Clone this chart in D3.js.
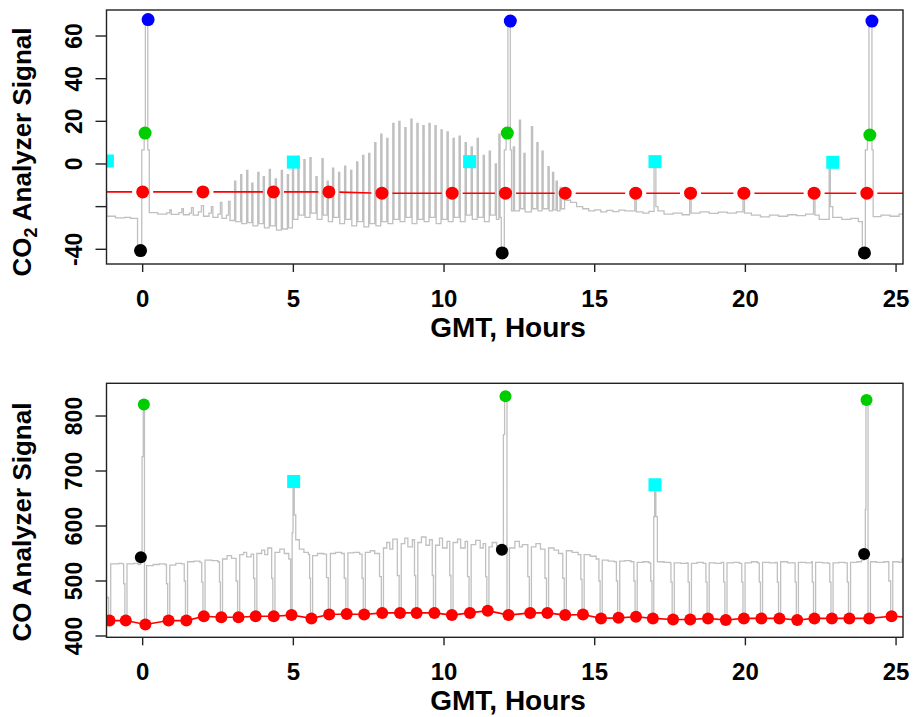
<!DOCTYPE html>
<html>
<head>
<meta charset="utf-8">
<script src="https://cdn.jsdelivr.net/npm/d3@7"></script>
<style>
  body { margin: 0; background: #fff; }
  text { font-family: "Liberation Sans", Arial, sans-serif; font-weight: bold; fill: #000; }
</style>
</head>
<body>
<script>
const xTicks = [0, 5, 10, 15, 20, 25];
const co2Ticks = [-40, -20, 0, 20, 40, 60];
const co2TickLabels = ['-40', '', '0', '20', '40', '60'];
const coTicks = [400, 500, 600, 700, 800];
const coTickLabels = ['400', '500', '600', '700', '800'];

// CO2 analyzer trace, [hours, signal], step after
const co2Trace = [
  [-1.22,-16],[-1.19,-24.5],[-0.9,-25.3],[-0.6,-25.0],[-0.4,-25.5],[-0.17,-41],[-0.03,6.6],[0.05,14.5],[0.09,67.7],[0.17,6.6],[0.22,-22.8],
  [0.5,-23.5],[0.8,-22.9],[0.9,-21.5],[0.95,-23.6],[1.2,-22.8],[1.3,-21],[1.35,-23.8],[1.55,-23],[1.62,-20.5],[1.68,-24],[1.85,-22.5],[1.95,-19.5],[2.02,-24.5],[2.2,-23],[2.28,-20],[2.33,-25],[2.5,-23.5],[2.58,-18],[2.63,-25.5],[2.78,-24],[2.85,-17.5],[2.9,-26.5],
  [3.05,-8],[3.09,-27],[3.25,-5],[3.29,-28],[3.45,-3],[3.49,-27.5],[3.62,-9],[3.66,-29],[3.82,-4],[3.86,-28],[4.0,-6],[4.04,-30],[4.2,-2.5],[4.24,-29],[4.4,-7],[4.44,-31],[4.6,-3],[4.64,-30.5],[4.8,-5],[4.84,-30],[4.97,0],[5.01,-26],
  [5.15,3.5],[5.19,-24],[5.35,2],[5.39,-25],[5.55,3],[5.59,-23],[5.75,-6],[5.79,-26],[5.95,2.5],[5.99,-24],[6.12,-8],[6.16,-27],[6.3,-2],[6.34,-25],[6.5,-4],[6.54,-28],[6.7,-1],[6.74,-26],[6.9,-3],[6.94,-29],[7.1,1],[7.14,-27],[7.3,4],[7.34,-29.5],[7.5,5],[7.54,-28],
  [7.7,10],[7.74,-29],[7.9,14],[7.94,-27],[8.1,12],[8.14,-28],
  [8.3,19],[8.34,-26],[8.5,20],[8.54,-27],[8.7,17],[8.74,-25],[8.9,21],[8.94,-28],[9.1,19],[9.14,-26],[9.3,18],[9.34,-27],[9.5,19],[9.54,-25],[9.7,18],[9.74,-28],[9.9,16],[9.94,-26],[10.1,15],[10.14,-27],[10.3,12],[10.34,-25],[10.5,13],[10.54,-27],[10.7,10],[10.74,-24],[10.9,8],[10.94,-26],[11.1,12],[11.14,-25],[11.3,4],[11.34,-27],[11.5,6],[11.54,-24],[11.7,0],[11.74,-26],[11.82,14],[11.86,-25],
  [11.9,-41.7],[12.0,6.6],[12.06,14.5],[12.12,67],[12.2,6.6],[12.24,-22],
  [12.3,8],[12.34,-22],[12.5,20.6],[12.54,-21],[12.65,5],[12.69,-22.5],[12.9,17.5],[12.94,-21],[13.08,10],[13.12,-22],[13.25,6],[13.29,-21],[13.45,-1.3],[13.49,-22],[13.6,-4],[13.64,-21.5],[13.72,-8],[13.76,-22],[13.85,-11],[13.89,-21],[14.0,-15],[14.05,-17],[14.2,-18],[14.4,-20],[14.6,-21],
  [14.8,-22],[15.0,-21.5],[15.2,-22.5],[15.4,-21.8],[15.6,-22.3],[15.8,-21.6],[16.0,-22],[16.33,-13.3],[16.38,-22.5],[16.6,-23],[16.8,-22.2],[16.97,1],[17.03,-20],[17.1,-22],[17.3,-23.5],[17.6,-23],[17.9,-23.8],[18.15,-13.5],[18.2,-23],[18.5,-22.5],[18.8,-23.2],[19.1,-22.6],[19.4,-23],[19.7,-22.5],[19.92,-13.5],[19.97,-23],
  [20.2,-24],[20.5,-24.8],[20.8,-24],[21.1,-24.5],[21.4,-23.8],[21.7,-24.2],[22.0,-23.5],[22.26,-13.5],[22.31,-24],[22.45,-26],[22.78,0.8],[22.82,-20],[22.9,-25],[23.2,-26],[23.5,-25.5],[23.75,-27],[23.88,-41.7],[23.98,6.6],[24.05,13.6],[24.1,67],[24.2,6.6],[24.24,-24.7],[24.5,-24],[24.8,-24.5],[25.1,-23.5],[25.3,-23]
];
const co2Ref = [[-2.2,-13.1],[0,-13.1],[2.0,-13.1],[4.34,-13.1],[6.18,-13.1],[7.94,-13.7],[10.27,-13.7],[12.04,-13.7],[14.02,-13.7],[16.36,-13.7],[18.18,-13.7],[19.95,-13.7],[22.28,-13.7],[24.03,-13.7],[26.2,-13.7]];
const co2Blue = [[0.18,67.7],[12.2,67],[24.2,67]];
const co2Green = [[0.08,14.5],[12.1,14.5],[24.13,13.6]];
const co2Black = [[-0.07,-40.6],[11.93,-41.7],[23.95,-41.7]];
const co2Cyan = [[-1.17,1.4],[5.0,0.9],[10.85,1.1],[17.0,1.1],[22.9,0.8]];

// CO analyzer trace, [hours, signal], step after
const coTrace = [
  [-1.22,470],[-1.13,428],[-1.06,531],[-0.8,532],[-0.68,531],[-0.63,495],[-0.59,428],[-0.52,531],[-0.3,532],[-0.15,530],[-0.08,531],[-0.06,543],[-0.02,726],[0.02,821],[0.06,421],[0.13,528],
  [0.35,530],[0.55,531],[0.74,530],[0.79,495],[0.83,428],[0.9,529],[1.1,532],[1.3,531],[1.38,500],[1.42,428],[1.49,535],[1.7,536],[1.9,534],[1.96,498],[2.0,436],[2.07,538],[2.3,537],[2.5,535],[2.55,498],[2.58,434],[2.65,540],[2.8,546],[2.95,541],
  [3.1,500],[3.15,434],[3.22,548],[3.35,552],[3.45,544],[3.6,549],[3.68,505],[3.72,436],[3.79,550],[3.95,556],[4.05,548],[4.15,560],[4.28,505],[4.32,436],[4.39,552],[4.55,558],[4.7,550],[4.85,540],[4.91,438],[4.96,588],[4.99,681],[5.03,620],[5.08,575],[5.2,558],[5.35,552],[5.5,548],
  [5.54,505],[5.57,432],[5.64,546],[5.8,550],[6.0,549],[6.1,506],[6.16,439],[6.23,550],[6.4,552],[6.6,550],[6.69,505],[6.74,440],[6.81,551],[7.0,552],[7.2,549],[7.28,505],[7.32,439],[7.39,552],[7.55,555],[7.7,550],[7.86,508],[7.92,442],[7.99,560],[8.1,570],[8.2,558],[8.3,576],
  [8.45,510],[8.51,442],[8.58,568],[8.7,578],[8.8,562],[8.95,575],[9.02,510],[9.06,442],[9.13,570],[9.25,580],[9.4,565],[9.52,575],[9.61,510],[9.65,442],[9.72,565],[9.85,578],[9.95,560],[10.1,572],[10.19,510],[10.23,438],[10.3,570],[10.45,576],[10.55,560],[10.7,572],
  [10.78,508],[10.83,442],[10.9,566],[11.05,574],[11.2,560],[11.3,568],[11.38,508],[11.42,446],[11.49,562],[11.6,570],[11.75,560],[11.85,556],[11.92,557],[11.97,766],[12.01,836],[12.09,438],[12.17,560],[12.35,572],[12.5,562],[12.6,566],
  [12.78,508],[12.83,442],[12.9,562],[13.05,568],[13.2,558],[13.35,505],[13.4,442],[13.47,560],[13.65,556],[13.8,550],[13.94,505],[13.99,438],[14.06,555],[14.25,552],[14.45,548],[14.54,503],[14.58,439],[14.65,548],[14.85,545],[15.05,540],
  [15.14,500],[15.18,432],[15.25,538],[15.45,536],[15.65,535],[15.72,500],[15.76,433],[15.83,536],[16.0,537],[16.2,535],[16.3,500],[16.34,435],[16.41,534],[16.6,535],[16.8,533],[16.86,500],[16.9,432],[16.96,617],[16.99,675],[17.03,617],[17.08,535],[17.3,534],[17.5,533],
  [17.53,498],[17.57,430],[17.64,533],[17.85,532],[18.05,533],[18.1,498],[18.14,430],[18.21,532],[18.4,534],[18.6,532],[18.69,498],[18.73,432],[18.8,533],[19.0,532],[19.2,534],[19.28,498],[19.32,429],[19.39,533],[19.6,534],[19.8,532],[19.88,498],[19.92,432],[19.99,533],
  [20.2,535],[20.4,533],[20.46,498],[20.5,432],[20.57,534],[20.8,533],[21.0,534],[21.06,498],[21.1,432],[21.17,535],[21.4,533],[21.6,533],[21.65,498],[21.69,429],[21.76,534],[22.0,533],[22.2,535],[22.22,498],[22.26,432],[22.33,534],[22.55,533],[22.75,532],
  [22.8,498],[22.84,432],[22.91,533],[23.1,534],[23.3,533],[23.38,498],[23.42,432],[23.49,534],[23.7,535],[23.85,538],[23.94,549],[23.98,630],[24.0,829],[24.07,432],[24.15,535],[24.35,534],[24.6,535],[24.76,500],[24.82,436],[24.89,535],[25.1,534],[25.2,540],[25.3,540]
];
const coRef = [[-1.7,427],[-1.10,428],[-0.56,428],[0.09,421],[0.86,428],[1.45,428],[2.03,436],[2.61,434],[3.18,434],[3.75,436],[4.35,436],[4.94,438],[5.60,432],[6.19,439],[6.77,440],[7.35,439],[7.95,442],[8.54,442],[9.09,442],[9.68,442],[10.26,438],[10.86,442],[11.45,446],[12.14,438],[12.86,442],[13.43,442],[14.02,438],[14.61,439],[15.21,432],[15.79,433],[16.37,435],[16.93,432],[17.60,430],[18.17,430],[18.76,432],[19.35,429],[19.95,432],[20.53,432],[21.13,432],[21.72,429],[22.29,432],[22.87,432],[23.45,432],[24.11,432],[24.85,436],[25.5,434]];
const coGreen = [[0.04,821],[12.04,836],[24.02,829]];
const coBlack = [[-0.06,543],[11.92,557],[23.94,549]];
const coCyan = [[5.01,681],[17.0,675]];

const svg = d3.select('body').append('svg')
  .attr('width', 914)
  .attr('height', 717);

const left = 106.5, right = 903;
const x = d3.scaleLinear().domain([-1.2, 25.23]).range([left, right]);

function drawPanel(cfg) {
  const y = cfg.y;
  const top = y.range()[1], bottom = y.range()[0];
  const g = svg.append('g');

  g.append('clipPath').attr('id', cfg.id)
    .append('rect')
    .attr('x', left).attr('y', top)
    .attr('width', right - left).attr('height', bottom - top);

  const plot = g.append('g').attr('clip-path', 'url(#' + cfg.id + ')');

  const stepLine = d3.line()
    .x(d => x(d[0]))
    .y(d => y(d[1]))
    .curve(d3.curveStepAfter);

  plot.append('path')
    .attr('d', stepLine(cfg.trace))
    .attr('fill', 'none')
    .attr('stroke', '#c0c0c0')
    .attr('stroke-width', 1.3);

  if (cfg.gapLine) {
    // R type="b": segments stop short of each point
    const gap = 10.5;
    for (let i = 0; i < cfg.ref.length - 1; i++) {
      let x0 = x(cfg.ref[i][0]), y0 = y(cfg.ref[i][1]);
      let x1 = x(cfg.ref[i + 1][0]), y1 = y(cfg.ref[i + 1][1]);
      let d = Math.sqrt(Math.pow(x1 - x0, 2) + Math.pow(y1 - y0, 2));
      if (d <= 2 * gap) continue;
      let ux = (x1 - x0) / d, uy = (y1 - y0) / d;
      plot.append('line')
        .attr('x1', x0 + ux * gap).attr('y1', y0 + uy * gap)
        .attr('x2', x1 - ux * gap).attr('y2', y1 - uy * gap)
        .attr('stroke', '#ff0000')
        .attr('stroke-width', 1.6);
    }
  } else {
    plot.append('path')
      .attr('d', d3.line().x(d => x(d[0])).y(d => y(d[1]))(cfg.ref))
      .attr('fill', 'none')
      .attr('stroke', '#ff0000')
      .attr('stroke-width', 1.6);
  }

  const dots = [{ data: cfg.ref, color: '#ff0000' }].concat(cfg.dots);
  dots.forEach(set => {
    plot.selectAll(null)
      .data(set.data)
      .enter().append('circle')
      .attr('cx', d => x(d[0]))
      .attr('cy', d => y(d[1]))
      .attr('r', cfg.r)
      .attr('fill', set.color);
  });

  plot.selectAll(null)
    .data(cfg.squares)
    .enter().append('rect')
    .attr('x', d => x(d[0]) - 6.5)
    .attr('y', d => y(d[1]) - 6.5)
    .attr('width', 13)
    .attr('height', 13)
    .attr('fill', '#00ffff');

  g.append('rect')
    .attr('x', left).attr('y', top)
    .attr('width', right - left).attr('height', bottom - top)
    .attr('fill', 'none')
    .attr('stroke', '#222')
    .attr('stroke-width', 1.4);

  // x axis
  g.selectAll(null)
    .data(xTicks)
    .enter().append('line')
    .attr('x1', d => x(d)).attr('x2', d => x(d))
    .attr('y1', bottom).attr('y2', bottom + 8)
    .attr('stroke', '#222')
    .attr('stroke-width', 1.4);
  g.selectAll(null)
    .data(xTicks)
    .enter().append('text')
    .attr('x', d => x(d))
    .attr('y', bottom + 43)
    .attr('text-anchor', 'middle')
    .style('font-size', '24px')
    .text(d => d);
  g.append('text')
    .attr('x', 508)
    .attr('y', bottom + 73)
    .attr('text-anchor', 'middle')
    .style('font-size', '28px')
    .text('GMT, Hours');

  // y axis
  g.selectAll(null)
    .data(cfg.yTicks)
    .enter().append('line')
    .attr('x1', left - 11).attr('x2', left)
    .attr('y1', d => y(d)).attr('y2', d => y(d))
    .attr('stroke', '#222')
    .attr('stroke-width', 1.4);
  g.selectAll(null)
    .data(cfg.yTicks)
    .enter().append('text')
    .attr('transform', d => 'translate(82,' + y(d) + ') rotate(-90)')
    .attr('text-anchor', 'middle')
    .style('font-size', '23px')
    .text((d, i) => cfg.yLabels[i]);

  const title = g.append('text')
    .attr('transform', 'translate(31,' + cfg.titleCenter + ') rotate(-90)')
    .attr('text-anchor', 'middle')
    .style('font-size', '26px');
  cfg.title.forEach(part => {
    title.append('tspan')
      .attr('dy', part.dy)
      .style('font-size', part.size)
      .text(part.text);
  });
}

drawPanel({
  id: 'clipTop',
  y: d3.scaleLinear().domain([-46.9, 72.2]).range([264, 10]),
  trace: co2Trace,
  ref: co2Ref,
  gapLine: true,
  r: 6.5,
  dots: [
    { data: co2Blue, color: '#0000ff' },
    { data: co2Green, color: '#00cd00' },
    { data: co2Black, color: '#000000' },
  ],
  squares: co2Cyan,
  yTicks: co2Ticks,
  yLabels: co2TickLabels,
  titleCenter: 152,
  title: [
    { text: 'CO', dy: 0, size: '26px' },
    { text: '2', dy: 6, size: '18px' },
    { text: ' Analyzer Signal', dy: -6, size: '26px' },
  ],
});

drawPanel({
  id: 'clipBottom',
  y: d3.scaleLinear().domain([397.6, 859.5]).range([637.3, 383.3]),
  trace: coTrace,
  ref: coRef,
  gapLine: false,
  r: 6,
  dots: [
    { data: coGreen, color: '#00cd00' },
    { data: coBlack, color: '#000000' },
  ],
  squares: coCyan,
  yTicks: coTicks,
  yLabels: coTickLabels,
  titleCenter: 522,
  title: [
    { text: 'CO Analyzer Signal', dy: 0, size: '26px' },
  ],
});
</script>
</body>
</html>
